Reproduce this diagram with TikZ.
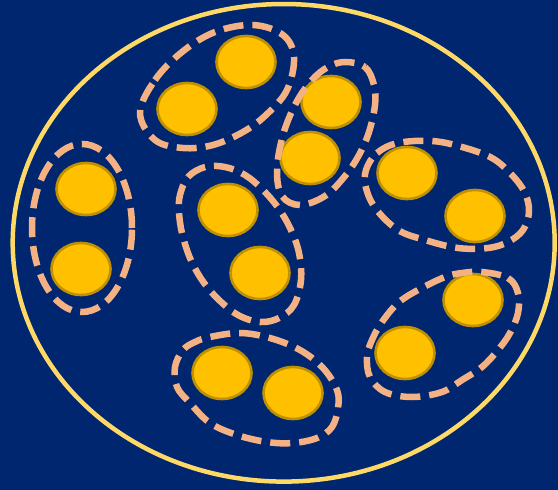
\documentclass[tikz,border=0pt]{standalone}
\usetikzlibrary{shapes.geometric}
\definecolor{BG}{HTML}{002670}
\definecolor{RIM}{HTML}{FFD966}
\definecolor{CELL}{HTML}{FFC000}
\definecolor{CELLRIM}{HTML}{BF9000}
\definecolor{PAIR}{HTML}{F4B183}

\begin{document}
\begin{tikzpicture}[x=1pt, y=-1pt,
    cell/.style={ellipse, draw=CELLRIM, fill=CELL, line width=2.6pt,
                 minimum width=59pt, minimum height=52pt, inner sep=0pt},
    pair/.style={draw=PAIR, line width=6.5pt, dash pattern=on 20pt off 9pt}]
  \fill[BG] (0,0) rectangle (558,490);
  \draw[RIM, line width=4.5pt] (283.7,242.8) ellipse [x radius=271pt, y radius=238.8pt];

  % the fourteen cells
  \foreach \n/\x/\y in {1/246/62, 2/187/109, 3/331/102, 4/310/158,
                        5/86/189, 6/81/269, 7/228/210, 8/260/273,
                        9/407/173, 10/475/216, 11/473/300, 12/405/353,
                        13/222/373, 14/293/393}
    \node[cell] (c\n) at (\x,\y) {};

  % dashed outlines round each pair
  \draw[pair] plot[smooth cycle, tension=0.6] coordinates {
    (140,113) (155,80) (182,52) (215,32) (253,25) (283,35) (294,57)
    (287,90) (266,115) (243,132) (213,145) (183,148) (155,140)};
  \draw[pair] plot[smooth cycle, tension=0.6] coordinates {
    (345,62) (365,67) (374,85) (375,105) (369,132) (359,155) (345,176)
    (325,196) (300,205) (282,196) (277,170) (283,135) (296,103) (312,80) (328,67)};
  \draw[pair] (82,228) ellipse [x radius=50pt, y radius=84pt];
  \draw[pair] plot[smooth cycle, tension=0.6] coordinates {
    (180,195) (188,177) (205,167) (225,167) (245,175) (263,190) (279,209)
    (291,230) (299,253) (301,280) (294,305) (279,318) (260,322) (238,315)
    (218,299) (202,280) (190,258) (182,233) (179,212)};
  \draw[pair] plot[smooth cycle, tension=0.6] coordinates {
    (366,170) (377,153) (398,143) (432,141) (462,147) (492,158) (512,175)
    (525,193) (529,212) (523,230) (508,242) (488,248) (458,248) (425,240)
    (398,230) (376,209) (366,188)};
  \draw[pair] plot[smooth cycle, tension=0.6] coordinates {
    (482,272) (508,278) (518,293) (518,313) (510,333) (498,350) (482,367)
    (462,380) (442,392) (412,397) (385,392) (370,377) (367,357) (372,340)
    (382,322) (398,303) (418,290) (445,277) (462,273)};
  \draw[pair] plot[smooth cycle, tension=0.6] coordinates {
    (210,337) (240,333) (270,338) (300,350) (323,368) (337,390) (338,408)
    (332,427) (317,438) (293,443) (267,442) (237,435) (210,423) (190,403)
    (177,387) (175,367) (183,350) (195,342)};
\end{tikzpicture}
\end{document}
